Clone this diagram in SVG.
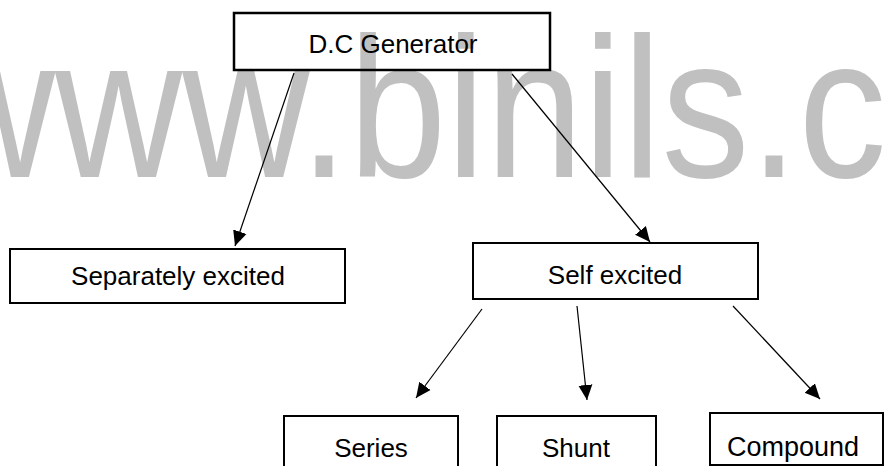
<svg xmlns="http://www.w3.org/2000/svg" width="885" height="466" viewBox="0 0 885 466">
  <style>
    .box { fill: none; stroke: #000; stroke-width: 2; }
    .lbl { font-family: "Liberation Sans", Arial, sans-serif; font-size: 26px; fill: #000; text-anchor: middle; }
    .wm { font-family: "Liberation Sans", Arial, sans-serif; font-size: 200px; fill: #c0c0c0; }
    .conn { stroke: #000; stroke-width: 1.2; fill: none; marker-end: url(#arrow); }
  </style>
  <defs>
    <marker id="arrow" markerUnits="userSpaceOnUse" markerWidth="16" markerHeight="16" viewBox="0 0 16 16" refX="15" refY="8" orient="auto">
      <path d="M0,1 L15,8 L0,15 Z" fill="#000"/>
    </marker>
  </defs>
  <rect width="885" height="466" fill="#fff"/>
  <text class="wm" x="0" y="177" transform="matrix(0.88 0 0 1 -72 0)">www.binils.c</text>

  <g id="connectors">
    <line class="conn" x1="294" y1="73" x2="235" y2="246"/>
    <line class="conn" x1="512" y1="74" x2="650" y2="242"/>
    <line class="conn" x1="482" y1="309" x2="416" y2="398"/>
    <line class="conn" x1="577" y1="306" x2="587" y2="400"/>
    <line class="conn" x1="733" y1="306" x2="820" y2="399"/>
  </g>

  <g id="dc-generator">
    <rect class="box" x="234" y="13" width="316" height="57" style="stroke-width:2.5"/>
    <text class="lbl" x="393" y="53">D.C Generator</text>
  </g>
  <g id="separately-excited">
    <rect class="box" x="10" y="249" width="335" height="54"/>
    <text class="lbl" x="178" y="285">Separately excited</text>
  </g>
  <g id="self-excited">
    <rect class="box" x="473" y="243" width="285" height="56"/>
    <text class="lbl" x="615" y="284">Self excited</text>
  </g>
  <g id="series">
    <rect class="box" x="284" y="416" width="174" height="60"/>
    <text class="lbl" x="371" y="457">Series</text>
  </g>
  <g id="shunt">
    <rect class="box" x="497" y="416" width="159" height="60"/>
    <text class="lbl" x="576" y="457">Shunt</text>
  </g>
  <g id="compound">
    <rect class="box" x="710" y="413" width="173" height="52"/>
    <text class="lbl" x="793" y="456" style="font-size:27px">Compound</text>
  </g>
</svg>
